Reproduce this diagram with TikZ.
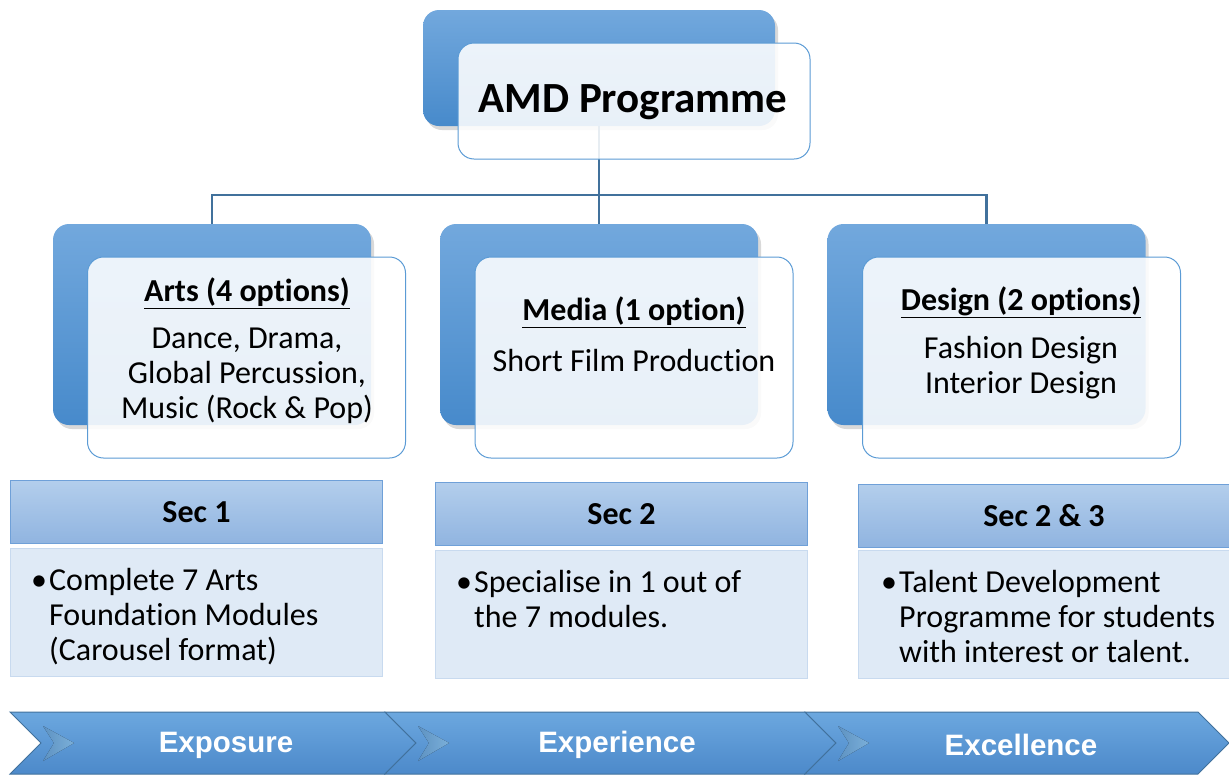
\documentclass[tikz,border=0pt]{standalone}
\usepackage{fontspec}
\setmainfont{Carlito}[Ligatures=NoCommon]
\newfontfamily\arialfont{Liberation Sans}
\usetikzlibrary{shadows}

\definecolor{backtop}{HTML}{72A8DD}
\definecolor{backbot}{HTML}{478ACB}
\definecolor{boxline}{HTML}{5B9BD5}
\definecolor{linkblue}{HTML}{41719C}
\definecolor{sectop}{HTML}{B3CEEC}
\definecolor{secbot}{HTML}{90B4E0}
\definecolor{secline}{HTML}{6FA0D8}
\definecolor{bodyfill}{HTML}{DFEAF6}
\definecolor{bodyline}{HTML}{C8DAEF}
\definecolor{bartop}{HTML}{6CA8DF}
\definecolor{barbot}{HTML}{4C89CA}
\definecolor{bevel}{HTML}{8FCBFA}

\newcommand{\bul}[1]{\makebox[18pt][l]{\textbullet}\parbox[t]{340pt}{#1}}

\begin{document}
\begin{tikzpicture}[x=1pt,y=-1pt,
    back/.style={rounded corners=16pt,top color=backtop,bottom color=backbot,
      minimum width=352pt,minimum height=116pt,
      drop shadow={shadow xshift=3pt,shadow yshift=-4pt,opacity=0.3}},
    front/.style={rounded corners=16pt,draw=boxline,line width=1pt,fill=white,
      fill opacity=0.88,text opacity=1,minimum width=352pt,minimum height=116pt},
    bigback/.style={back,minimum width=318pt,minimum height=201pt},
    bigfront/.style={front,minimum width=318pt,minimum height=201pt},
    link/.style={draw=linkblue,line width=2.5pt},
    title/.style={inner sep=0pt,font=\fontsize{32}{35}\selectfont\bfseries},
    txt/.style={inner sep=0pt,align=center,font=\fontsize{32}{35}\selectfont},
    sechead/.style={top color=sectop,bottom color=secbot,draw=secline,line width=1pt,
      minimum width=372pt,minimum height=63pt,font=\fontsize{32}{35}\selectfont\bfseries},
    secbody/.style={fill=bodyfill,draw=bodyline,line width=1pt,minimum width=372pt,minimum height=128pt},
    bullet/.style={inner sep=0pt,anchor=base west,font=\fontsize{32}{35}\selectfont},
    bar/.style={top color=bartop,bottom color=barbot,draw=linkblue,line width=1pt},
    bevelfill/.style={left color=bartop,right color=bevel,draw=none,opacity=0.85},
    bartext/.style={inner sep=0pt,text=white,font=\fontsize{29.5}{34}\selectfont\arialfont\bfseries}]
  \useasboundingbox (0,0) rectangle (1229,774);

  % back boxes
  \node[back] (amdback) at (599,68) {};
  \node[bigback] (artsback) at (212,324.5) {};
  \node[bigback] (mediaback) at (599,324.5) {};
  \node[bigback] (designback) at (986.5,324.5) {};

  % links
  \coordinate (hub) at (599,195);
  \draw[link] (amdback.south) -- (hub) -| (artsback.north);
  \draw[link] (hub) -- (mediaback.north);
  \draw[link] (hub) -| (designback.north);

  % front boxes
  \node[front] (amd) at (634,101) {};
  \node[bigfront] (arts) at (246.5,357.5) {};
  \node[bigfront] (media) at (634,357.5) {};
  \node[bigfront] (design) at (1021.5,357.5) {};

  \node[inner sep=0pt,font=\fontsize{43}{50}\selectfont\bfseries] (amd-t) at (633,102) {AMD Programme};
  \node[title] (arts-t) at (247,293) {\underline{Arts (4 options)}};
  \node[txt] (arts-b) at (247,376) {Dance, Drama,\\Global Percussion,\\Music (Rock \& Pop)};
  \node[title] (media-t) at (634,312) {\underline{Media (1 option)}};
  \node[txt] (media-b) at (634,361) {Short Film Production};
  \node[title] (design-t) at (1021,302) {\underline{Design (2 options)}};
  \node[txt] (design-b) at (1021,368) {Fashion Design\\Interior Design};

  % secondary levels
  \node[sechead] (sec1) at (196.5,512) {Sec 1};
  \node[secbody] (sec1b) at (196.5,612) {};
  \node[sechead] (sec2) at (621.5,514) {Sec 2};
  \node[secbody] (sec2b) at (621.5,614.5) {};
  \node[sechead] (sec3) at (1044,515.5) {Sec 2 \& 3};
  \node[secbody] (sec3b) at (1044,614.5) {};

  \node[bullet] (sec1-t) at (31,590) {\bul{Complete 7 Arts\\Foundation Modules\\(Carousel format)}};
  \node[bullet] (sec2-t) at (456,592) {\bul{Specialise in 1 out of\\the 7 modules.}};
  \node[bullet] (sec3-t) at (881,592) {\bul{Talent Development\\Programme for students\\with interest or talent.}};

  % stages
  \foreach \xa/\xb/\xt/\lbl/\nm in {10/385/226/Exposure/expo,385/805/617/Experience/expe,805/1198/1021/Excellence/excel}{
    \draw[bar] (\xa,712) -- (\xb,712) -- ++(31,31) -- ++(-31,31) -- (\xa,774) -- ++(31,-31) -- cycle;
    \fill[bevelfill] (\xa+33,726) -- (\xa+64,743) -- (\xa+33,761) -- (\xa+44,743) -- cycle;
    \node[bartext] (\nm) at (\xt,745) {\lbl};
  }
\end{tikzpicture}
\end{document}
